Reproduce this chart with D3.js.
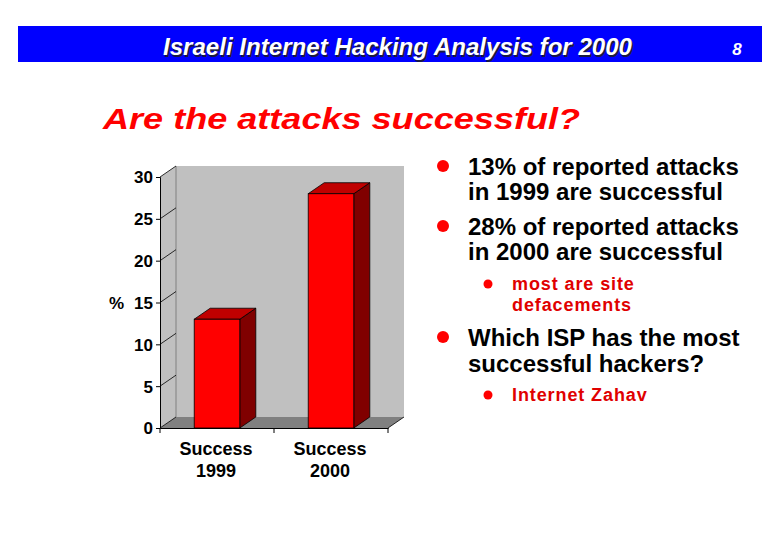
<!DOCTYPE html>
<html><head><meta charset="utf-8">
<script src="https://cdn.jsdelivr.net/npm/d3@7"></script>
<style>body{margin:0;background:#fff}svg{display:block}</style>
</head><body>
<svg id="c" width="780" height="540"></svg>
<script>
const categories = ["Success 1999", "Success 2000"];
const values = [13, 28];
const yTicks = [0, 5, 10, 15, 20, 25, 30];
const headerTitle = "Israeli Internet Hacking Analysis for 2000";
const pageNumber = "8";
const subtitle = "Are the attacks successful?";
const bullets = [
  {level: 1, lines: ["13% of reported attacks", "in 1999 are successful"]},
  {level: 1, lines: ["28% of reported attacks", "in 2000 are successful"]},
  {level: 2, lines: ["most are site", "defacements"]},
  {level: 1, lines: ["Which ISP has the most", "successful hackers?"]},
  {level: 2, lines: ["Internet Zahav"]}
];

const svg = d3.select("#c");
const F = "Arial, 'Liberation Sans', sans-serif";

// header
svg.append("rect").attr("x", 18).attr("y", 26).attr("width", 744).attr("height", 36).attr("fill", "#0000FF");
[["#1a1a40", 1.5], ["#fff", 0]].forEach(([col, off]) => {
  svg.append("text").attr("x", 163 + off).attr("y", 55 + off)
    .attr("font-family", F).attr("font-weight", "bold").attr("font-style", "italic").attr("font-size", 23)
    .attr("textLength", 469).attr("lengthAdjust", "spacingAndGlyphs")
    .attr("fill", col).text(headerTitle);
});
svg.append("text").attr("x", 737).attr("y", 55).attr("text-anchor", "middle")
  .attr("font-family", F).attr("font-weight", "bold").attr("font-style", "italic").attr("font-size", 17)
  .attr("fill", "#fff").text(pageNumber);

svg.append("text").attr("x", 103).attr("y", 129)
  .attr("font-family", F).attr("font-weight", "bold").attr("font-style", "italic").attr("font-size", 30)
  .attr("textLength", 477).attr("lengthAdjust", "spacingAndGlyphs")
  .attr("fill", "#FF0000").text(subtitle);

// chart
const x0 = 160, x1 = 388, dx = 16, dy = -11;
const y = d3.scaleLinear().domain([0, 30]).range([428, 177]);
const x = d3.scaleBand().domain(categories).range([x0, x1]).paddingInner(0.6).paddingOuter(0.3);
const g = svg.append("g");
const yTop = y(30), yBot = y(0);
// back wall
g.append("polygon").attr("points", [[x0+dx, yBot+dy],[x1+dx, yBot+dy],[x1+dx, yTop+dy],[x0+dx, yTop+dy]].join(" "))
  .attr("fill", "#C0C0C0");
// side wall
g.append("polygon").attr("points", [[x0, yBot],[x0+dx, yBot+dy],[x0+dx, yTop+dy],[x0, yTop]].join(" "))
  .attr("fill", "#C0C0C0");
// floor
g.append("polygon").attr("points", [[x0, yBot],[x1, yBot],[x1+dx, yBot+dy],[x0+dx, yBot+dy]].join(" "))
  .attr("fill", "#808080");
g.append("line").attr("x1", x0+dx).attr("x2", x0+dx).attr("y1", yBot+dy).attr("y2", yTop+dy).attr("stroke", "#808080");
// diagonal ticks on side wall
g.selectAll(".dt").data(yTicks).join("line")
  .attr("x1", x0).attr("y1", d => y(d)).attr("x2", x0+dx).attr("y2", d => y(d)+dy)
  .attr("stroke", "#000").attr("stroke-width", 0.8);
// floor right edge
g.append("line").attr("x1", x1).attr("y1", yBot).attr("x2", x1+dx).attr("y2", yBot+dy).attr("stroke", "#000").attr("stroke-width", 0.8);

// bars
const bars = g.selectAll(".bar").data(categories.map((c, i) => ({c, v: values[i]}))).join("g");
bars.append("polygon").attr("points", d => {
  const a = x(d.c), b = a + x.bandwidth(), t = y(d.v);
  return [[b, yBot],[b+dx, yBot+dy],[b+dx, t+dy],[b, t]].join(" ");
}).attr("fill", "#800000").attr("stroke", "#000").attr("stroke-width", 0.8);
bars.append("polygon").attr("points", d => {
  const a = x(d.c), b = a + x.bandwidth(), t = y(d.v);
  return [[a, t],[b, t],[b+dx, t+dy],[a+dx, t+dy]].join(" ");
}).attr("fill", "#C00000").attr("stroke", "#000").attr("stroke-width", 0.8);
bars.append("rect").attr("x", d => x(d.c)).attr("y", d => y(d.v))
  .attr("width", x.bandwidth()).attr("height", d => yBot - y(d.v))
  .attr("fill", "#FF0000").attr("stroke", "#000").attr("stroke-width", 0.8);

// y axis
const yAxis = g.append("g").attr("transform", `translate(${x0},0)`)
  .call(d3.axisLeft(y).tickValues(yTicks).tickSize(4).tickPadding(3));
yAxis.select(".domain").attr("stroke", "#000");
yAxis.selectAll("text").attr("font-family", F).attr("font-weight", "bold").attr("font-size", 17).attr("fill", "#000").attr("dy", "0.35em");
g.append("text").attr("x", 109).attr("y", y(15) + 6).attr("font-family", F).attr("font-weight", "bold").attr("font-size", 17).text("%");

// x axis
const xAxis = g.append("g").attr("transform", `translate(0,${yBot})`)
  .call(d3.axisBottom(x).tickSize(0).tickFormat(""));
xAxis.select(".domain").attr("stroke", "#000");
g.selectAll(".xt").data([x0, (x0+x1)/2, x1]).join("line")
  .attr("x1", d => d).attr("x2", d => d).attr("y1", yBot).attr("y2", yBot+5).attr("stroke", "#000");
const xl = g.selectAll(".xl").data(categories).join("text")
  .attr("x", d => x(d) + x.bandwidth()/2 - 1).attr("y", 455).attr("text-anchor", "middle")
  .attr("font-family", F).attr("font-weight", "bold").attr("font-size", 18).attr("fill", "#000");
xl.each(function(d) {
  const parts = d.split(" ");
  d3.select(this).selectAll("tspan").data(parts).join("tspan")
    .attr("x", x(d) + x.bandwidth()/2 - 1).attr("dy", (p, i) => i ? 22 : 0).text(p => p);
});

// bullets
const bpos = [
  {y: [175, 200], dotY: 166},
  {y: [235, 260], dotY: 226},
  {y: [290, 311], dotY: 284},
  {y: [346, 372], dotY: 337},
  {y: [401], dotY: 395}
];
bullets.forEach((b, i) => {
  const p = bpos[i];
  const l1 = b.level === 1;
  svg.append("circle").attr("cx", l1 ? 443 : 488).attr("cy", p.dotY).attr("r", l1 ? 6 : 4.5).attr("fill", "#FF0000");
  b.lines.forEach((ln, j) => {
    svg.append("text").attr("x", l1 ? 468 : 512).attr("y", p.y[j])
      .attr("font-family", F).attr("font-weight", "bold").attr("font-size", l1 ? 24 : 18)
      .attr("letter-spacing", l1 ? 0 : 0.9)
      .attr("fill", l1 ? "#000" : "#E00000").text(ln);
  });
});
</script>
</body></html>
